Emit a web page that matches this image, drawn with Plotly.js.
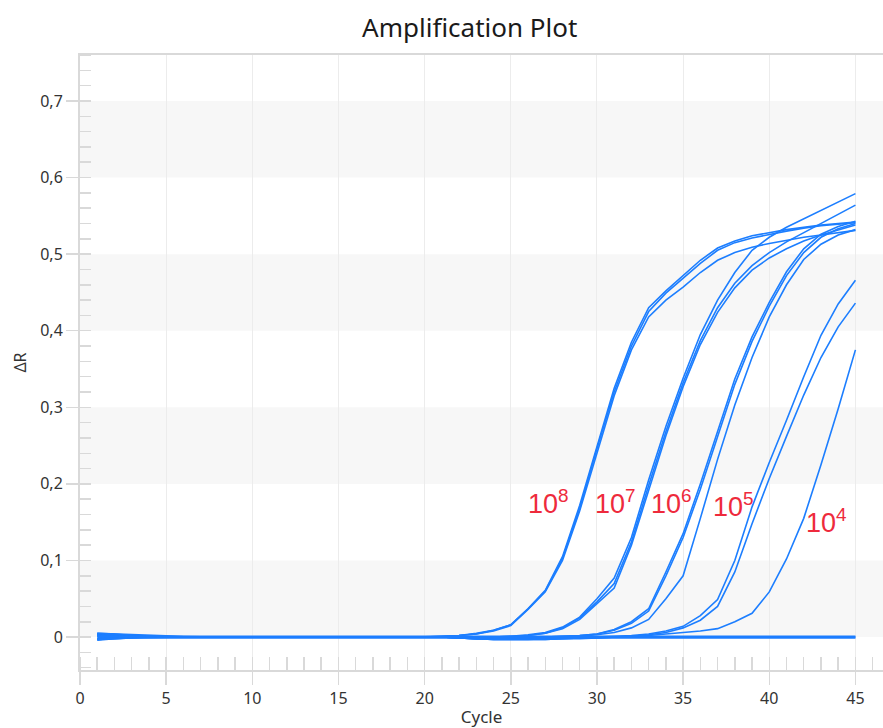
<!DOCTYPE html>
<html><head><meta charset="utf-8">
<script src="https://cdn.plot.ly/plotly-3.0.1.min.js"></script>
<style>html,body{margin:0;padding:0;background:#fff}#chart{width:883px;height:728px}</style>
</head><body><div id="chart"></div>
<script>
const cycles = [1,2,3,4,5,6,7,8,9,10,11,12,13,14,15,16,17,18,19,20,21,22,23,24,25,26,27,28,29,30,31,32,33,34,35,36,37,38,39,40,41,42,43,44,45];

// 10^8 replicates
const s8a = [0.004,0.003,0.002,0.001,0.0005, 0,0,0,0,0, 0,0,0,0,0, 0,0,0,0,0.0005,
  0.001,0.002,0.005,0.009,0.016, 0.037,0.061,0.105,0.172,0.25, 0.325,0.385,0.43,0.452,0.472,
  0.492,0.508,0.517,0.524,0.528, 0.532,0.535,0.538,0.54,0.542];
const s8b = [0.002,0.0015,0.001,0.0005,0, 0,0,0,0,0, 0,0,0,0,0, 0,0,0,0,0,
  0.001,0.002,0.004,0.008,0.015, 0.036,0.059,0.1,0.165,0.24, 0.315,0.375,0.418,0.44,0.457,
  0.476,0.492,0.502,0.509,0.514, 0.518,0.522,0.525,0.528,0.531];
const s8c = [-0.002,-0.001,-0.0005,0,0, 0,0,0,0,0, 0,0,0,0,0, 0,0,0,0,0,
  0.0005,0.002,0.004,0.009,0.016, 0.037,0.06,0.103,0.168,0.246, 0.32,0.38,0.425,0.449,0.468,
  0.488,0.505,0.515,0.521,0.526, 0.53,0.534,0.537,0.539,0.541];
// 10^7 replicates
const s7a = [0.005,0.004,0.002,0.001,0.001, 0.0005,0,0,0,0, 0,0,0,0,0, 0,0,0,0,0,
  0,0,0,0,0.001, 0.003,0.006,0.013,0.026,0.05, 0.077,0.13,0.205,0.275,0.338,
  0.395,0.44,0.476,0.505,0.522, 0.535,0.546,0.556,0.567,0.579];
const s7b = [0.003,0.002,0.001,0.0005,0, 0,0,0,0,0, 0,0,0,0,0, 0,0,0,0,0,
  0,0,0,0,0.001, 0.002,0.005,0.012,0.025,0.046, 0.07,0.124,0.198,0.268,0.332,
  0.387,0.43,0.462,0.485,0.502, 0.516,0.528,0.54,0.552,0.564];
const s7c = [-0.003,-0.002,-0.001,0,0, 0,0,0,0,0, 0,0,0,0,0, 0,0,0,0,0,
  0,0,-0.001,-0.001,0, 0.002,0.005,0.011,0.023,0.043, 0.064,0.12,0.193,0.263,0.327,
  0.382,0.424,0.456,0.479,0.495, 0.507,0.517,0.525,0.532,0.538];
// 10^6 replicates
const s6a = [0.004,0.003,0.002,0.001,0.0005, 0,0,0,0,0, 0,0,0,0,0, 0,0,0,0,0,
  0,0,-0.001,-0.001,-0.001, 0,0,0.001,0.002,0.004, 0.01,0.02,0.037,0.085,0.135,
  0.2,0.27,0.337,0.392,0.437, 0.477,0.507,0.526,0.536,0.543];
const s6b = [0.001,0.001,0.0005,0,0, 0,0,0,0,0, 0,0,0,0,0, 0,0,0,0,0,
  0,-0.001,-0.002,-0.002,-0.002, -0.001,0,0.001,0.002,0.004, 0.009,0.018,0.034,0.08,0.13,
  0.193,0.263,0.33,0.386,0.432, 0.472,0.502,0.522,0.533,0.54];
const s6c = [-0.004,-0.002,-0.001,-0.0005,0, 0,0,0,0,0, 0,0,0,0,0, 0,0,0,0,0,
  0,-0.001,-0.002,-0.002,-0.002, -0.002,-0.001,0,0.001,0.003, 0.006,0.012,0.023,0.05,0.08,
  0.155,0.232,0.303,0.365,0.418, 0.46,0.493,0.513,0.525,0.532];
// 10^5 replicates
const s5a = [0.003,0.002,0.001,0.0005,0, 0,0,0,0,0, 0,0,0,0,0, 0,0,0,0,0,
  0,-0.001,-0.002,-0.003,-0.003, -0.003,-0.002,-0.002,-0.001,0, 0.001,0.002,0.004,0.008,0.014,
  0.028,0.049,0.1,0.17,0.228, 0.283,0.34,0.394,0.435,0.466];
const s5b = [-0.001,-0.001,0,0,0, 0,0,0,0,0, 0,0,0,0,0, 0,0,0,0,0,
  0,-0.001,-0.002,-0.003,-0.003, -0.003,-0.003,-0.002,-0.001,-0.001, 0,0.001,0.003,0.006,0.012,
  0.022,0.04,0.085,0.148,0.207, 0.262,0.316,0.365,0.405,0.436];
// 10^4 replicate
const s4a = [0.002,0.001,0.0005,0,0, 0,0,0,0,0, 0,0,0,0,0, 0,0,0,0,0,
  0,-0.001,-0.002,-0.003,-0.003, -0.003,-0.003,-0.002,-0.002,-0.001, 0,0.001,0.002,0.004,0.006,
  0.008,0.011,0.02,0.031,0.059, 0.102,0.155,0.225,0.298,0.375];
// no-template controls
const ntc1 = [0.005,0.004,0.003,0.002,0.0015, 0.001,0.001,0.001,0.001,0.001, 0.001,0.001,0.001,0.001,0.001, 0.001,0.001,0.001,0.001,0.001,
  0.001,0.001,0.001,0.001,0.001, 0.001,0.001,0.001,0.001,0.001, 0.001,0.001,0.001,0.001,0.001, 0.001,0.001,0.001,0.001,0.001, 0.001,0.001,0.001,0.001,0.001];
const ntc2 = [-0.003,-0.002,-0.001,-0.001,-0.001, -0.001,-0.001,-0.001,-0.001,-0.001, -0.001,-0.001,-0.001,-0.001,-0.001, -0.001,-0.001,-0.001,-0.001,-0.001,
  -0.001,-0.001,-0.001,-0.001,-0.001, -0.001,-0.001,-0.001,-0.001,-0.001, -0.001,-0.001,-0.001,-0.001,-0.001, -0.001,-0.001,-0.001,-0.001,-0.001, -0.001,-0.001,-0.001,-0.001,-0.001];
const ntc3 = [0.001,0.001,0.0005,0.0005,0, 0,0,0,0,0, 0,0,0,0,0, 0,0,0,0,0,
  0,0,0,0,0, 0,0,0,0,0, 0,0,0,0,0, 0,0,0,0,0, 0,0,0,0,0];

const seriesList = [s8a,s8b,s8c,s7a,s7b,s7c,s6a,s6b,s6c,s5a,s5b,s4a,ntc1,ntc2,ntc3];
const labelTexts = ['10<sup>8</sup>','10<sup>7</sup>','10<sup>6</sup>','10<sup>5</sup>','10<sup>4</sup>'];
const bandRanges = [[0,0.1],[0.2,0.3],[0.4,0.5],[0.6,0.7]];

const lineColor = '#1c7eff';
const traces = seriesList.map(v => ({
  x: cycles, y: v, type: 'scatter', mode: 'lines',
  line: {color: lineColor, width: 1.6}, hoverinfo: 'skip'
}));

const labelPos = [[27.2,0.176],[31.1,0.176],[34.35,0.176],[37.95,0.173],[43.3,0.151]];
const annotations = labelTexts.map((t,i) => ({
  x: labelPos[i][0], y: labelPos[i][1], xref: 'x', yref: 'y', text: t, showarrow: false,
  xanchor: 'center', yanchor: 'middle',
  font: {family: 'Liberation Sans, Arial, sans-serif', size: 27, color: '#ee2a3c'}
}));

const shapes = bandRanges.map(r => ({
  type: 'rect', xref: 'paper', yref: 'y', x0: 0, x1: 1, y0: r[0], y1: r[1],
  fillcolor: '#f7f7f7', line: {width: 0}, layer: 'below'
}));

const tickFont = {family: 'Noto Sans, Open Sans, sans-serif', size: 16, color: '#333'};
const axisGray = '#d9d9d9';

const layout = {
  width: 883, height: 728,
  margin: {l: 80, r: 0, t: 55, b: 58},
  paper_bgcolor: '#fff', plot_bgcolor: '#fff',
  showlegend: false,
  separators: ',.',
  title: {text: 'Amplification Plot', xref: 'container', yref: 'container', x: 0.532, xanchor: 'center', y: 0.962, yanchor: 'middle',
    font: {family: 'Noto Sans, Open Sans, sans-serif', size: 26, color: '#1a1a1a'}},
  xaxis: {
    range: [0, 46.6], tick0: 0, dtick: 5, ticks: 'outside', ticklen: 13, tickwidth: 1.5, tickcolor: axisGray,
    showline: true, linecolor: axisGray, linewidth: 2, mirror: true,
    showgrid: true, gridcolor: '#ececec', gridwidth: 1, zeroline: false,
    minor: {dtick: 1, tick0: 0, ticks: 'inside', ticklen: 13, tickwidth: 1.5, tickcolor: axisGray, showgrid: false},
    tickfont: tickFont, fixedrange: true,
    title: {text: 'Cycle', font: {family: 'Noto Sans, Open Sans, sans-serif', size: 17, color: '#333'}, standoff: 5}
  },
  yaxis: {
    range: [-0.043, 0.76], tick0: 0, dtick: 0.1, ticks: 'outside', ticklen: 12, tickwidth: 1.5, tickcolor: axisGray,
    showline: true, linecolor: axisGray, linewidth: 2,
    showgrid: false, zeroline: false,
    minor: {dtick: 0.02, tick0: 0, ticks: 'inside', ticklen: 11, tickwidth: 1.5, tickcolor: axisGray, showgrid: false},
    tickfont: tickFont, fixedrange: true,
    title: {text: 'ΔR', font: {family: 'Noto Sans, Open Sans, sans-serif', size: 16, color: '#333'}, standoff: 10}
  },
  shapes: shapes,
  annotations: annotations
};

Plotly.newPlot('chart', traces, layout, {displayModeBar: false, staticPlot: true});
</script>
</body></html>
